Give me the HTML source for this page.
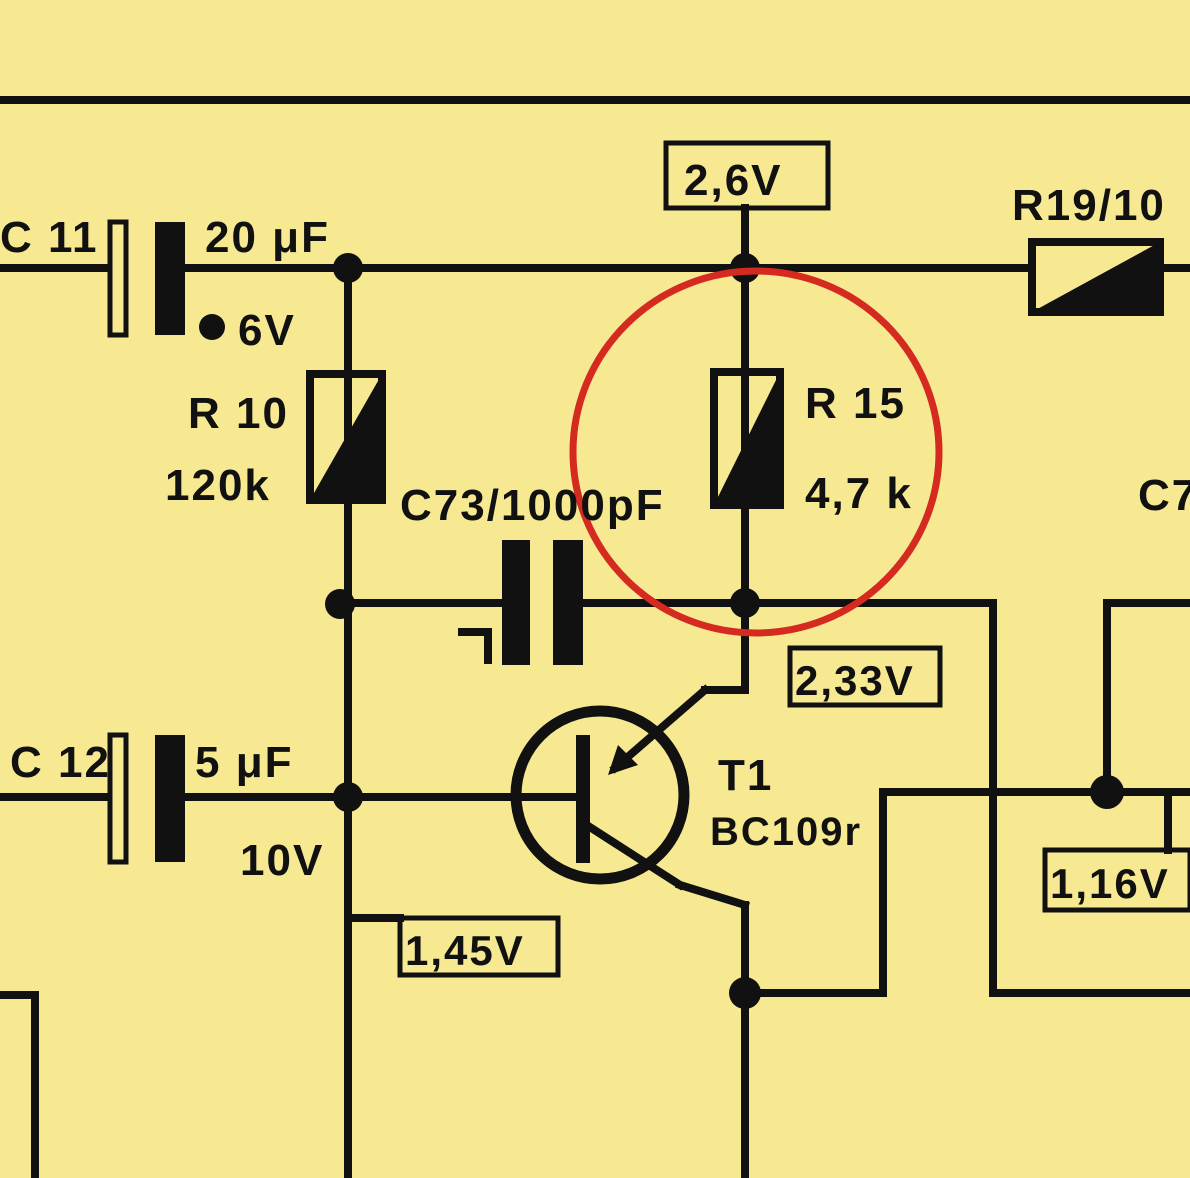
<!DOCTYPE html>
<html><head><meta charset="utf-8"><style>
html,body{margin:0;padding:0;background:#f7e992;}
svg{display:block}
text{font-family:"Liberation Sans",sans-serif;font-weight:bold;fill:#111;letter-spacing:2px}
</style></head><body>
<svg width="1190" height="1178" viewBox="0 0 1190 1178" xmlns="http://www.w3.org/2000/svg">
<rect width="1190" height="1178" fill="#f7e992"/>
<g stroke="#111" stroke-width="8" fill="none" stroke-linecap="square">
<line x1="0" y1="100" x2="1190" y2="100"/>
<line x1="0" y1="268" x2="108" y2="268"/>
<line x1="185" y1="268" x2="1030" y2="268"/>
<line x1="1162" y1="268" x2="1190" y2="268"/>
<line x1="745" y1="208" x2="745" y2="268"/>
<line x1="348" y1="268" x2="348" y2="1178"/>
<line x1="745" y1="268" x2="745" y2="690"/>
<line x1="348" y1="603" x2="502" y2="603"/>
<line x1="583" y1="603" x2="993" y2="603"/>
<line x1="993" y1="603" x2="993" y2="993"/>
<line x1="993" y1="993" x2="1190" y2="993"/>
<line x1="0" y1="797" x2="108" y2="797"/>
<line x1="185" y1="797" x2="580" y2="797"/>
<line x1="745" y1="690" x2="705" y2="690"/>
<line x1="705" y1="690" x2="615" y2="768"/>
<line x1="582" y1="822" x2="680" y2="885"/>
<line x1="680" y1="885" x2="745" y2="905"/>
<line x1="745" y1="905" x2="745" y2="1178"/>
<line x1="745" y1="993" x2="883" y2="993"/>
<line x1="883" y1="993" x2="883" y2="792"/>
<line x1="883" y1="792" x2="1190" y2="792"/>
<line x1="1107" y1="792" x2="1107" y2="603"/>
<line x1="1107" y1="603" x2="1190" y2="603"/>
<line x1="1168" y1="792" x2="1168" y2="850"/>
<line x1="348" y1="918" x2="400" y2="918"/>
<line x1="0" y1="995" x2="35" y2="995"/>
<line x1="35" y1="995" x2="35" y2="1178"/>
<line x1="462" y1="632" x2="488" y2="632"/>
<line x1="488" y1="632" x2="488" y2="660"/>
<rect x="666" y="143" width="162" height="65" stroke-width="5"/>
<rect x="790" y="648" width="150" height="57" stroke-width="5"/>
<rect x="400" y="918" width="158" height="57" stroke-width="5"/>
<rect x="1045" y="850" width="145" height="60" stroke-width="5"/>
<rect x="110" y="222" width="16" height="113" stroke-width="5"/>
<rect x="110" y="735" width="16" height="127" stroke-width="5"/>
<rect x="310" y="374" width="72" height="126"/>
<rect x="714" y="372" width="66" height="133"/>
<rect x="1032" y="242" width="128" height="70"/>
<circle cx="600" cy="795" r="84" stroke-width="11"/>
</g>
<g fill="#111">
<rect x="155" y="222" width="30" height="113"/>
<rect x="155" y="735" width="30" height="127"/>
<rect x="502" y="540" width="28" height="125"/>
<rect x="553" y="540" width="30" height="125"/>
<rect x="576" y="735" width="14" height="128"/>
<polygon points="382,374 382,500 310,500"/>
<polygon points="780,372 780,505 714,505"/>
<polygon points="1160,242 1160,312 1032,312"/>
<polygon points="608,775 618,745 638,765"/>
<circle cx="348" cy="268" r="15"/>
<circle cx="745" cy="268" r="15"/>
<circle cx="340" cy="604" r="15"/>
<circle cx="745" cy="603" r="15"/>
<circle cx="348" cy="797" r="15"/>
<circle cx="745" cy="993" r="16"/>
<circle cx="1107" cy="792" r="17"/>
<circle cx="212" cy="327" r="13"/>
</g>
<ellipse cx="756" cy="452" rx="183" ry="181" fill="none" stroke="#d42a20" stroke-width="7"/>
<g font-size="44">
<text x="0" y="252">C 11</text>
<text x="205" y="252">20 μF</text>
<text x="238" y="345">6V</text>
<text x="684" y="195">2,6V</text>
<text x="1012" y="220">R19/10</text>
<text x="188" y="428">R 10</text>
<text x="165" y="500">120k</text>
<text x="400" y="520" letter-spacing="0">C73/1000pF</text>
<text x="805" y="418">R 15</text>
<text x="805" y="508">4,7 k</text>
<text x="1138" y="510">C7</text>
<text x="795" y="695" font-size="42" letter-spacing="0">2,33V</text>
<text x="10" y="777">C 12</text>
<text x="195" y="777">5 μF</text>
<text x="240" y="875">10V</text>
<text x="718" y="790">T1</text>
<text x="710" y="845" font-size="40" letter-spacing="0">BC109r</text>
<text x="405" y="965" font-size="42">1,45V</text>
<text x="1050" y="898" font-size="42" letter-spacing="0">1,16V</text>
</g>
</svg>
</body></html>
